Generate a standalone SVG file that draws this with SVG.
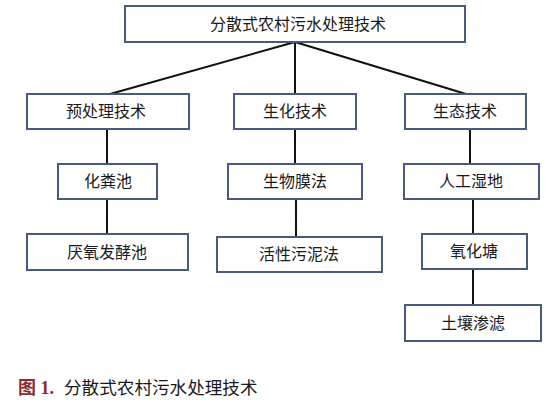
<svg xmlns="http://www.w3.org/2000/svg" width="553" height="402" viewBox="0 0 553 402">
<style>
.box{fill:#fff;stroke:#4a5a7e;stroke-width:2}
.t{font-family:"Liberation Sans","Noto Sans CJK SC",sans-serif;font-size:16px;fill:#1a1a1a;text-anchor:middle;dominant-baseline:central}
.c{stroke:#111;stroke-width:2;fill:none}
</style>
<rect width="553" height="402" fill="#fff"/>
<g id="connectors">
<line class="c" x1="295" y1="42" x2="110" y2="94"/>
<line class="c" x1="295" y1="42" x2="295" y2="94"/>
<line class="c" x1="295" y1="42" x2="466" y2="94"/>
<line class="c" x1="107" y1="129" x2="107" y2="164"/>
<line class="c" x1="107" y1="199" x2="107" y2="234"/>
<line class="c" x1="295" y1="129" x2="295" y2="164"/>
<line class="c" x1="296" y1="199" x2="296" y2="237"/>
<line class="c" x1="470" y1="129" x2="470" y2="164"/>
<line class="c" x1="473" y1="199" x2="473" y2="234"/>
<line class="c" x1="473" y1="269" x2="473" y2="305"/>
</g>
<g id="root"><rect class="box" x="125" y="6" width="340" height="36"/><text class="t" x="298" y="24">分散式农村污水处理技术</text></g>
<g id="pre"><rect class="box" x="27" y="94" width="162" height="35"/><text class="t" x="106" y="111.5">预处理技术</text></g>
<g id="bio"><rect class="box" x="234" y="94" width="122" height="35"/><text class="t" x="295" y="111.5">生化技术</text></g>
<g id="eco"><rect class="box" x="405" y="94" width="121" height="35"/><text class="t" x="465" y="111.5">生态技术</text></g>
<g id="septic"><rect class="box" x="58" y="164" width="99" height="35"/><text class="t" x="108" y="181.5">化粪池</text></g>
<g id="anaerobic"><rect class="box" x="27" y="234" width="161" height="36"/><text class="t" x="107" y="252">厌氧发酵池</text></g>
<g id="biofilm"><rect class="box" x="228" y="164" width="134" height="35"/><text class="t" x="295" y="181.5">生物膜法</text></g>
<g id="sludge"><rect class="box" x="217" y="237" width="165" height="35"/><text class="t" x="299" y="254.5">活性污泥法</text></g>
<g id="wetland"><rect class="box" x="404" y="164" width="135" height="35"/><text class="t" x="471" y="181.5">人工湿地</text></g>
<g id="pond"><rect class="box" x="422" y="234" width="105" height="35"/><text class="t" x="474" y="251.5">氧化塘</text></g>
<g id="soil"><rect class="box" x="405" y="305" width="136" height="36"/><text class="t" x="473" y="323">土壤渗滤</text></g>
<g id="caption">
<text x="18" y="394" font-family="'Liberation Serif','Noto Sans CJK SC',serif" font-size="18" font-weight="bold" fill="#8b2b2b">图 1.</text>
<text x="64" y="394" font-family="'Liberation Sans','Noto Sans CJK SC',sans-serif" font-size="17.6" fill="#1a1a1a">分散式农村污水处理技术</text>
</g>
</svg>
